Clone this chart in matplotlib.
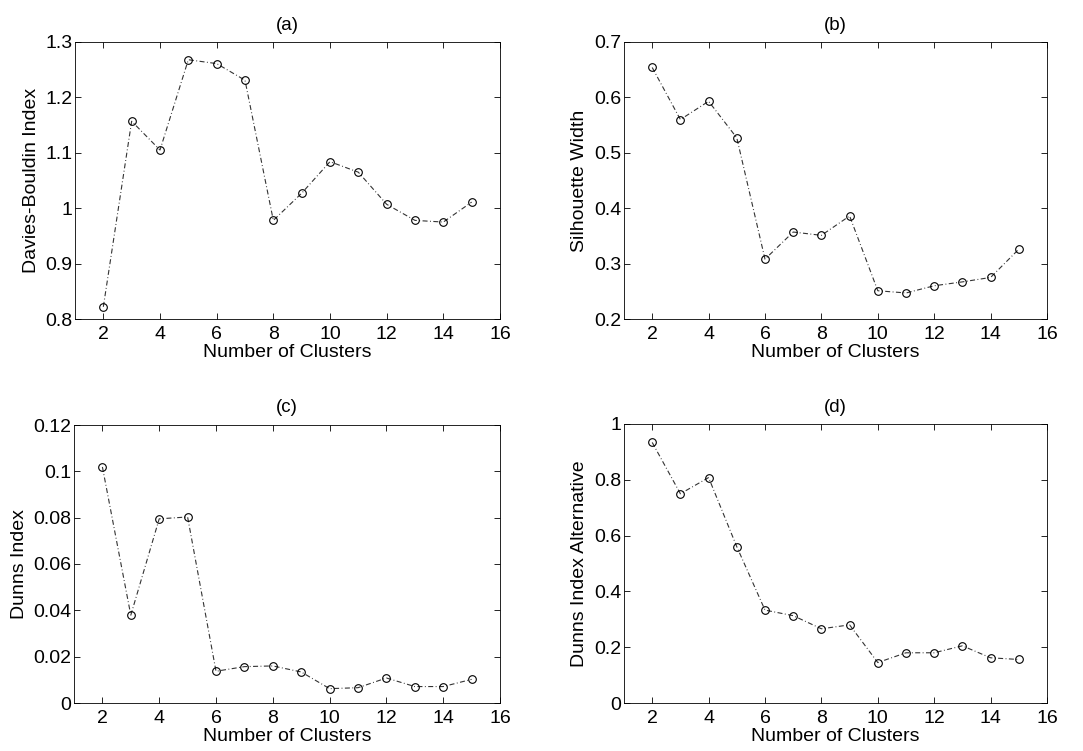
import matplotlib
matplotlib.use("Agg")
import matplotlib.pyplot as plt

plt.rcParams['font.family'] = ['Liberation Sans', 'DejaVu Sans']

clusters = [2, 3, 4, 5, 6, 7, 8, 9, 10, 11, 12, 13, 14, 15]

davies_bouldin = [0.822, 1.157, 1.105, 1.268, 1.261, 1.231, 0.978,
                  1.027, 1.084, 1.065, 1.007, 0.978, 0.975, 1.011]
silhouette = [0.654, 0.560, 0.593, 0.527, 0.308, 0.357, 0.351,
              0.386, 0.251, 0.247, 0.260, 0.267, 0.275, 0.326]
dunns = [0.1019, 0.0379, 0.0795, 0.0803, 0.0137, 0.0157, 0.0160,
         0.0134, 0.0062, 0.0066, 0.0108, 0.0071, 0.0071, 0.0102]
dunns_alt = [0.934, 0.750, 0.808, 0.560, 0.333, 0.313, 0.266,
             0.280, 0.145, 0.180, 0.180, 0.205, 0.162, 0.156]

panels = [
    ("(a)", "Davies-Bouldin Index", davies_bouldin, (0.8, 1.3),
     [0.8, 0.9, 1.0, 1.1, 1.2, 1.3], ["0.8", "0.9", "1", "1.1", "1.2", "1.3"]),
    ("(b)", "Silhouette Width", silhouette, (0.2, 0.7),
     [0.2, 0.3, 0.4, 0.5, 0.6, 0.7], ["0.2", "0.3", "0.4", "0.5", "0.6", "0.7"]),
    ("(c)", "Dunns Index", dunns, (0.0, 0.12),
     [0, 0.02, 0.04, 0.06, 0.08, 0.1, 0.12],
     ["0", "0.02", "0.04", "0.06", "0.08", "0.1", "0.12"]),
    ("(d)", "Dunns Index Alternative", dunns_alt, (0.0, 1.0),
     [0, 0.2, 0.4, 0.6, 0.8, 1.0], ["0", "0.2", "0.4", "0.6", "0.8", "1"]),
]

xticks = [2, 4, 6, 8, 10, 12, 14, 16]

W, H = 1083, 751
fig = plt.figure(figsize=(W / 100, H / 100), dpi=100)

# axes boxes in pixel coordinates: left, top, right, bottom
boxes = [
    (75, 42, 500, 319),
    (624, 42, 1047, 319),
    (74, 425, 500, 703),
    (624, 424, 1047, 703),
]

for (title, ylabel, values, ylim, yt, ytl), (l, t, r, b) in zip(panels, boxes):
    ax = fig.add_axes([l / W, 1 - b / H, (r - l) / W, (b - t) / H])
    line, = ax.plot(clusters, values, color='#333333', linewidth=0.8,
                    marker='o', markersize=5.5, markerfacecolor='none',
                    markeredgecolor='black', markeredgewidth=0.8)
    line.set_dashes((4.5, 2.2, 0.8, 2.2))
    ax.set_xlim(1, 16)
    ax.set_ylim(*ylim)
    ax.set_xticks(xticks)
    ax.set_yticks(yt)
    ax.set_yticklabels(ytl)
    ax.tick_params(direction='in', top=True, right=True, length=4,
                   width=0.6, labelsize=14)
    ax.tick_params(axis='x', pad=5)
    ax.tick_params(axis='y', pad=2)
    for s in ax.spines.values():
        s.set_linewidth(0.6)
    ax.set_title(title, fontsize=13.5, pad=9)
    ax.set_xlabel("Number of Clusters", fontsize=14, labelpad=1)
    ax.set_ylabel(ylabel, fontsize=14, labelpad=4)

fig.savefig("out.png", dpi=100)
